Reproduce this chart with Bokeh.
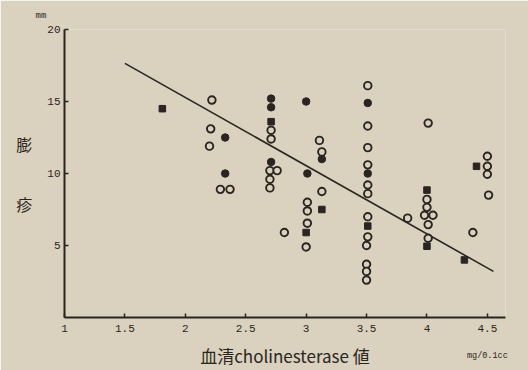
from bokeh.plotting import figure
from bokeh.models import Range1d, FixedTicker, LinearAxis
from bokeh.embed import file_html
from bokeh.resources import INLINE

# ---- data ----
open_x = [2.22, 2.21, 2.20, 2.29, 2.37, 2.71, 2.71, 2.70, 2.76, 2.70, 2.70, 2.82,
          3.01, 3.01, 3.01, 3.00, 3.11, 3.13, 3.13,
          3.51, 3.51, 3.51, 3.51, 3.51, 3.51, 3.51, 3.51, 3.50, 3.50, 3.50, 3.50,
          3.84, 4.01, 4.00, 4.00, 3.98, 4.05, 4.01, 4.01, 4.38, 4.50, 4.50, 4.50, 4.51]
open_y = [15.1, 13.1, 11.9, 8.9, 8.9, 13.0, 12.4, 10.2, 10.2, 9.6, 9.0, 5.9,
          8.0, 7.4, 6.55, 4.9, 12.3, 11.5, 8.75,
          16.1, 13.3, 11.8, 10.6, 9.2, 8.6, 7.0, 5.6, 5.0, 3.7, 3.2, 2.6,
          6.9, 13.5, 8.2, 7.65, 7.1, 7.1, 6.45, 5.5, 5.9, 11.2, 10.5, 9.95, 8.5]

filled_x = [2.33, 2.33, 2.71, 2.71, 2.71, 3.00, 3.01, 3.13, 3.51, 3.51]
filled_y = [12.5, 10.0, 15.2, 14.6, 10.8, 15.0, 10.0, 11.0, 14.9, 10.0]

square_x = [1.81, 2.71, 3.00, 3.13, 3.51, 4.00, 4.00, 4.41, 4.31]
square_y = [14.5, 13.6, 5.9, 7.5, 6.35, 8.85, 4.95, 10.5, 4.0]

line_x = [1.5, 4.55]
line_y = [17.65, 3.2]

x_ticks = [1, 1.5, 2, 2.5, 3, 3.5, 4, 4.5]
x_tick_labels = ["1", "1.5", "2", "2.5", "3", "3.5", "4", "4.5"]
y_ticks = [5, 10, 15, 20]
y_tick_labels = ["5", "10", "15", "20"]

x_title = "血清cholinesterase 値"
y_title = "膨\n\n疹"
y_unit = "mm"
x_unit = "mg/0.1cc"
x_unit_at = [4.5]

# ---- styling ----
BG = "#dad1be"
INK = "#2a2521"
MONO = "Liberation Mono"
CJK = "Noto Sans CJK JP"

p = figure(width=528, height=370, output_backend="svg", toolbar_location=None,
           x_range=Range1d(1, 4.65), y_range=Range1d(0, 20),
           min_border_left=64, min_border_right=23, min_border_top=29,
           min_border_bottom=46)
p.background_fill_color = BG
p.border_fill_color = BG
p.outline_line_color = None
p.grid.visible = False

for ax in (p.xaxis[0], p.yaxis[0]):
    ax.axis_line_color = INK
    ax.axis_line_width = 2
    ax.major_tick_line_color = INK
    ax.major_tick_line_width = 1.5
    ax.major_tick_in = 4
    ax.major_tick_out = 0
    ax.minor_tick_line_color = None
    ax.major_label_text_font = MONO
    ax.major_label_text_font_size = "11px"
    ax.major_label_text_color = INK

p.xaxis.ticker = FixedTicker(ticks=x_ticks)
p.xaxis.major_label_overrides = {t: l for t, l in zip(x_ticks, x_tick_labels)}
p.xaxis.major_label_standoff = 7

p.yaxis.ticker = FixedTicker(ticks=y_ticks)
p.yaxis.major_label_overrides = {t: l for t, l in zip(y_ticks, y_tick_labels)}
p.yaxis.major_label_standoff = 4
p.yaxis.axis_label = y_title
p.yaxis.axis_label_orientation = "horizontal"
p.yaxis.axis_label_text_font = CJK
p.yaxis.axis_label_text_font_size = "16px"
p.yaxis.axis_label_text_font_style = "normal"
p.yaxis.axis_label_text_color = INK
p.yaxis.axis_label_text_line_height = 1.25
p.yaxis.axis_label_standoff = 12

# second x axis: unit label + axis title on the same line
ax2 = LinearAxis(ticker=FixedTicker(ticks=x_unit_at),
                 major_label_overrides={x_unit_at[0]: x_unit})
ax2.axis_line_color = None
ax2.major_tick_line_color = None
ax2.minor_tick_line_color = None
ax2.major_label_text_font = MONO
ax2.major_label_text_font_size = "8.5px"
ax2.major_label_text_color = INK
ax2.major_label_standoff = 10
ax2.axis_label = x_title
ax2.axis_label_text_font = CJK
ax2.axis_label_text_font_size = "17px"
ax2.axis_label_text_font_style = "normal"
ax2.axis_label_text_color = INK
ax2.axis_label_standoff = -21
p.add_layout(ax2, "below")

# unit on the y axis, as a title
p.title.text = y_unit
p.title.align = "left"
p.title.offset = -29
p.title.standoff = 17
p.title.text_font = MONO
p.title.text_font_size = "9px"
p.title.text_font_style = "normal"
p.title.text_color = INK

# regression line
p.line(line_x, line_y, line_color=INK, line_width=1.6)

# markers
p.scatter(open_x, open_y, marker="circle", size=7.5, fill_color=BG,
          line_color=INK, line_width=1.9)
p.scatter(filled_x, filled_y, marker="circle", size=7.5, fill_color=INK,
          line_color=INK, line_width=1)
p.scatter(square_x, square_y, marker="square", size=6.5, fill_color=INK,
          line_color=INK, line_width=1)

open("out.html", "w").write(file_html(p, INLINE))
